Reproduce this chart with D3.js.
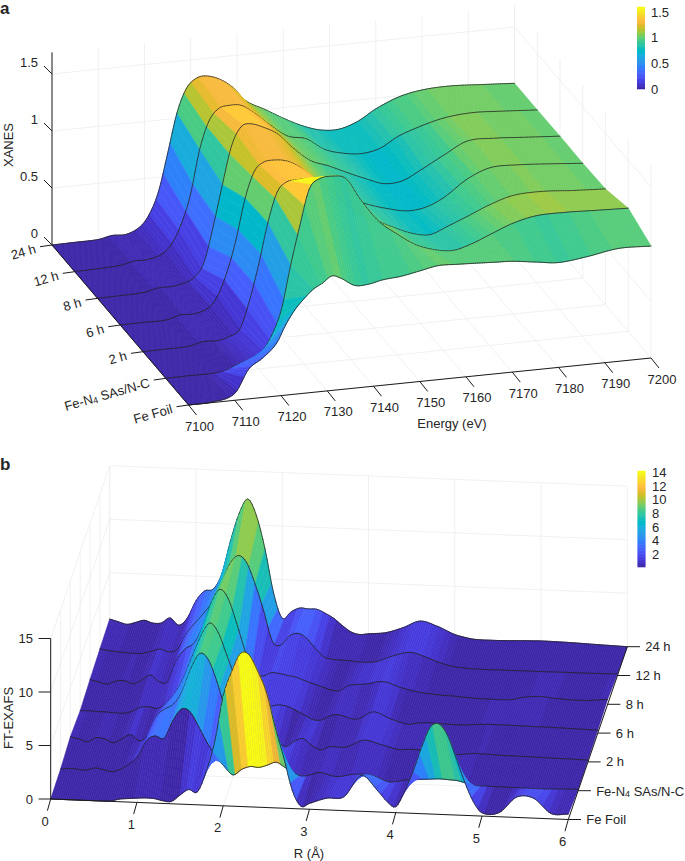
<!DOCTYPE html>
<html><head><meta charset="utf-8">
<script src="https://cdn.jsdelivr.net/npm/d3@7"></script>
<style>html,body{margin:0;background:#fff}svg{display:block}text{font-family:"Liberation Sans",Arial,sans-serif;fill:#262626}</style>
</head><body><svg id="c" width="685" height="861" viewBox="0 0 685 861"></svg>
<script>
const sampleLabels = ["Fe Foil","Fe-N4 SAs/N-C","2 h","6 h","8 h","12 h","24 h"];

const xanesEnergy = [7100,7105,7110,7113,7116,7119,7121,7123,7125,7127,7129,7131,7133,7136,7139,7142,7146,7150,7154,7158,7162,7166,7170,7175,7180,7186,7193,7200];
const xanesFeFoil = [0,.005,.06,.26,.345,.46,.615,.74,.83,.905,.95,1.005,.975,.90,.90,.925,.94,.97,1.0,.995,.988,.98,.972,.945,.92,.945,.99,.982];
const xanesFeN4   = [0,.002,.002,.018,.066,.11,.16,.29,.50,.88,1.22,1.53,1.61,1.625,1.59,1.40,1.19,1.06,.95,.89,.865,.905,.97,1.05,1.095,1.10,1.09,1.08];
const xanes2h     = [0,.002,.006,.035,.03,.06,.115,.35,.66,1.02,1.28,1.36,1.37,1.365,1.30,1.2,1.03,.95,.87,.8,.77,.83,.895,.98,1.04,1.05,1.03,1.015];
const xanes6h     = [0,.002,.003,.034,.032,.07,.165,.36,.64,1.0,1.23,1.3,1.31,1.29,1.22,1.11,.99,.9,.83,.78,.745,.76,.83,.97,1.05,1.05,1.03,1.006];
const xanes8h     = [0,.003,.01,.037,.037,.06,.10,.215,.524,.885,1.22,1.375,1.395,1.35,1.28,1.155,1.02,.955,.88,.81,.75,.76,.84,.95,1.05,1.05,1.03,1.01];
const xanes12h    = [0,.005,.015,.04,.042,.08,.16,.32,.57,.96,1.2,1.3,1.32,1.31,1.225,1.12,1.0,.96,.85,.80,.78,.81,.9,.97,1.02,1.04,1.025,1.006];
const xanes24h    = [0,.003,.007,.03,.027,.08,.18,.37,.70,1.045,1.25,1.33,1.347,1.31,1.225,1.09,1.0,.906,.825,.77,.76,.81,.905,.99,1.03,1.04,1.024,1.006];

const exafsR = [0,.1,.2,.3,.4,.5,.6,.7,.8,.9, 1,1.1,1.2,1.3,1.4,1.5,1.6,1.7,1.8,1.9, 2,2.1,2.2,2.3,2.4,2.5,2.6,2.7,2.8,2.9, 3, 3.2,3.4,3.6,3.8, 3.9,4,4.1,4.2,4.3,4.4,4.5,4.6,4.7,4.8,4.9,5, 5.2,5.4,5.6,5.8,6];
const exafsFeFoil = [0,0,0,0,0,0,0,.05,.25,.33, .4,.45,.42,.25,.22,.85,1.4,1.2,3.1,5.9, 10.3,12.6,14.3,14.2,12.7,10.8,7.6,4.8,1.7,.25, .55, 1.1,1.3,3.35,1.9, 1.0,.55,2.0,3.9,6.2,8.1,8.45,7.4,5.3,3.1,1.3,.3, .4,1.9,1.85,.5,.5];
const exafsFeN4   = [.08,.2,.15,.1,.33,.2,.06,.33,.85,1.6, 3.1,3.55,3.35,5.0,6.15,5.95,4.6,3.1,1.9,.95, .2,.75,1.05,1.0,1.25,1.55,1.1,.6,.35,.5, .75, .42,.7,.7,.12, .2,.35,.45,.5,.55,.6,.55,.5,.3,.1,.08,.08, .06,.05,.03,.1,.12];
const exafs2h     = [.44,.25,.03,.45,.35,.03,.45,.85,.3,.9, 2.7,3.4,3.9,5.2,7.3,8.7,8.15,6.1,3.5,1.8, 1.2,1.5,1.6,1.35,.75,.3,.85,1.12,.5,.13, .45, .5,1.2,.85,.45, .5,.52,.45,.35,.25,.18,.2,.3,.37,.35,.32,.28, .27,.25,.22,.2,.17];
const exafs6h     = [.18,.2,.16,.15,.1,.1,.3,.72,.8,.68, 1.25,2.2,3.7,5.7,7.6,8.85,8.0,5.9,3.8,2.2, 1.6,1.25,1.3,1.45,1.35,1.0,.6,.2,.2,.65, .74, .4,1.15,.55,.12, .25,.33,.32,.3,.27,.25,.3,.35,.4,.42,.41,.4, .38,.36,.34,.3,.28];
const exafs8h     = [.41,.2,.04,.35,.42,.15,.55,1.05,.45,.5, 2.5,3.6,4.15,5.6,7.9,9.3,8.5,6.2,3.6,1.7, 1.35,1.7,1.65,1.5,1.35,1.05,.8,.55,.3,.3, .8, 1.0,1.29,.8,.45, .35,.28,.22,.2,.15,.1,.06,.05,.03,.03,.1,.3, .48,.35,.27,.3,.47];
const exafs12h    = [.56,.45,.37,.3,.28,.32,.55,.78,.55,.85, 2.3,3.3,4.25,5.35,7.0,8.9,9.8,9.2,7.2,4.7, 1.9,1.6,2.5,2.75,2.3,1.4,.65,.45,.42,.4, .3, .4,1.0,1.39,.95, .65,.4,.22,.15,.1,.07,.07,.07,.08,.08,.08,.08, .08,.1,.1,.12,.14];
const exafs24h    = [.67,.45,.24,.45,.68,.45,.5,1.0,.35,1.05, 2.7,3.65,3.85,5.3,8.4,11,12.4,10.9,7.8,3.7, 1.37,2.0,2.4,2.35,2.35,2.0,1.55,.9,.35,.15, .25, .42,.95,1.63,1.2, .85,.5,.3,.15,.1,.1,.1,.12,.15,.18,.2,.22, .2,.16,.1,.05,0];

const xanesXTicks = [7100,7110,7120,7130,7140,7150,7160,7170,7180,7190,7200];
const xanesZTicks = [0,.5,1,1.5];
const xanesZTickLabels = ["0","0.5","1","1.5"];
const exafsXTicks = [0,1,2,3,4,5,6];
const exafsZTicks = [0,5,10,15];
const barATicks = [0,.5,1,1.5];
const barBTicks = [2,4,6,8,10,12,14];

const parula = [[.2422,.1504,.6603],[.2504,.165,.7076],[.2578,.1818,.7511],[.2647,.1978,.7952],[.2706,.2147,.8364],[.2751,.2342,.871],[.2783,.2559,.8991],[.2803,.2782,.9221],[.2813,.3006,.9414],[.281,.3228,.9579],[.2795,.3447,.9717],[.276,.3667,.9829],[.2699,.3892,.9906],[.2602,.4123,.9952],[.244,.4358,.9988],[.2206,.4603,.9973],[.1963,.4847,.9892],[.1834,.5074,.9798],[.1786,.5289,.9682],[.1764,.5499,.952],[.1687,.5703,.9359],[.154,.5902,.9218],[.146,.6091,.9079],[.138,.6276,.8973],[.1248,.6459,.8883],[.1113,.6635,.8763],[.0952,.6798,.8598],[.0689,.6948,.8394],[.0297,.7082,.8163],[.0036,.7203,.7917],[.0067,.7312,.766],[.0433,.7411,.7394],[.0964,.75,.712],[.1408,.7584,.6842],[.1717,.767,.6554],[.1938,.7758,.6251],[.2161,.7843,.5923],[.247,.7918,.5567],[.2906,.7973,.5188],[.3406,.8008,.4789],[.3909,.8029,.4354],[.4456,.8024,.3909],[.5044,.7993,.348],[.5616,.7942,.3045],[.6174,.7876,.2612],[.672,.7793,.2227],[.7242,.7698,.191],[.7738,.7598,.1646],[.8203,.7498,.1535],[.8634,.7406,.1596],[.9035,.733,.1774],[.9393,.7288,.21],[.9728,.7309,.2394],[.9956,.7434,.2371],[.997,.7659,.2199],[.9952,.7893,.2028],[.9892,.8136,.1885],[.9786,.8386,.1766],[.9676,.8639,.1643],[.961,.889,.1537],[.9597,.9135,.1423],[.9628,.9373,.1265],[.9691,.9606,.1064],[.9769,.9839,.0805]]
  .map(c => d3.rgb(c[0]*255,c[1]*255,c[2]*255).formatHex());

const svg = d3.select("#c");
const INK = "#1c1c1c", GRID = "#ededed";
const pathOf = d3.line();

// Cubic Hermite evaluation of the read-off knots so the sheet is smooth on screen.
function smooth(knots, vals, xs){
  const n = knots.length;
  const m = knots.map((k,i)=> i===0 ? (vals[1]-vals[0])/(knots[1]-knots[0])
    : i===n-1 ? (vals[n-1]-vals[n-2])/(knots[n-1]-knots[n-2])
    : (vals[i+1]-vals[i-1])/(knots[i+1]-knots[i-1]));
  const bis = d3.bisector(d=>d).right;
  return xs.map(x=>{
    let i = Math.min(n-2, Math.max(0, bis(knots,x)-1));
    const h = knots[i+1]-knots[i], s=(x-knots[i])/h, s2=s*s, s3=s2*s;
    return Math.max(0,(2*s3-3*s2+1)*vals[i]+(s3-2*s2+s)*h*m[i]+(-2*s3+3*s2)*vals[i+1]+(s3-s2)*h*m[i+1]);
  });
}

function makeProjection(o){
  const fx = d3.scaleLinear().domain(o.xDomain).range([0,1]);
  const ft = d3.scalePoint().domain(sampleLabels).range([0,1]);
  const fz = d3.scaleLinear().domain([0,1]).range([0,o.zPx]);
  const p = (x,t,z)=>{ const a=fx(x), b=typeof t==="string"?ft(t):t;
    return [o.ox+o.ux*a+o.vx*b, o.oy+o.uy*a+o.vy*b-fz(z)]; };
  p.ft = ft; return p;
}

function drawBox(g,p,xTicks,zTicks,zTop,xDomain,wallX){
  const grid = g.append("g").attr("fill","none").attr("stroke",GRID).attr("stroke-width",.8);
  const seg = (a,b)=>grid.append("path").attr("d",pathOf([a,b]));
  xTicks.forEach(x=>{ seg(p(x,0,0),p(x,1,0)); seg(p(x,1,0),p(x,1,zTop)); });
  sampleLabels.forEach(l=>{ seg(p(xDomain[0],l,0),p(xDomain[1],l,0)); seg(p(wallX,l,0),p(wallX,l,zTop)); });
  zTicks.filter(z=>z>0).forEach(z=>{ seg(p(xDomain[0],1,z),p(xDomain[1],1,z)); seg(p(wallX,0,z),p(wallX,1,z)); });
}

function drawSurface(g,p,knots,rows,cells,band,color,reverseX){
  const lo = knots[0], step = (knots[knots.length-1]-lo)/cells;
  const xs = d3.range(cells+1).map(i=>lo+i*step);
  const Z = rows.map(r=>smooth(knots,r,xs));
  const T = sampleLabels.map(l=>p.ft(l));
  const order = d3.range(cells); if(reverseX) order.reverse();
  const cell = g.append("g");
  const edge = (s,j)=>cell.append("path").attr("d",pathOf([p(xs[j],T[s],Z[s][j]),p(xs[j+1],T[s],Z[s][j+1])]))
      .attr("fill","none").attr("stroke","#222").attr("stroke-width",.75).attr("stroke-linecap","round");
  for(let s=rows.length-2;s>=0;s--){
    order.forEach(j=>{
      const c = color(Z[s][Math.floor(j/band)*band]);
      cell.append("path").attr("d",pathOf([p(xs[j],T[s],Z[s][j]),p(xs[j+1],T[s],Z[s][j+1]),p(xs[j+1],T[s+1],Z[s+1][j+1]),p(xs[j],T[s+1],Z[s+1][j])])+"Z")
        .attr("fill",c).attr("stroke",c).attr("stroke-width",.6).attr("stroke-linejoin","round");
      edge(s+1,j);
      if(s===0) edge(0,j);
    });
  }
}

function labelSample(sel,name){
  if(name==="Fe-N4 SAs/N-C"){
    sel.append("tspan").text("Fe-N");
    sel.append("tspan").text("4").attr("font-size",9).attr("dy",3);
    sel.append("tspan").text(" SAs/N-C").attr("dy",-3);
  } else sel.text(name);
}
const tickLine=(g,a,b)=>g.append("path").attr("d",pathOf([a,b])).attr("stroke",INK).attr("stroke-width",1).attr("fill","none");
const txt=(g,x,y,s,anchor,rot)=>{const t=g.append("text").attr("x",x).attr("y",y).attr("font-size",13).attr("text-anchor",anchor||"middle").attr("dominant-baseline","central");
  if(rot) t.attr("transform",`rotate(${rot} ${x} ${y})`); if(s!==null) t.text(s); return t;};

function colorbar(g,x,w,top,bottom,domain,color,ticks,labels,labelX){
  const y = d3.scaleLinear().domain(domain).range([bottom,top]);
  const b = g.append("g");
  const n = parula.length;
  const h=(domain[1]-domain[0])/n;
  const lv = d3.range(n).map(i=>domain[0]+h*i);
  lv.forEach(v=>b.append("rect").attr("x",x).attr("width",w).attr("y",y(v+h)-.3).attr("height",y(v)-y(v+h)+.6).attr("fill",color(v+h/2)));
  ticks.forEach((t,i)=>txt(g,labelX,y(t),labels?labels[i]:String(t),"start"));
}

/* ---------- panel a ---------- */
const ga = svg.append("g");
const pa = makeProjection({xDomain:[7100,7200],ox:188.5,oy:405,ux:462.5,uy:-47,vx:-136.5,vy:-160,zPx:114});
const colorA = d3.scaleQuantize().domain([0,1.6]).range(parula);
drawBox(ga,pa,xanesXTicks,xanesZTicks,1.69,[7100,7200],7200);
drawSurface(ga,pa,xanesEnergy,[xanesFeFoil,xanesFeN4,xanes2h,xanes6h,xanes8h,xanes12h,xanes24h],200,3,colorA,true);
tickLine(ga,pa(7100,0,0),pa(7200,0,0));
tickLine(ga,pa(7100,0,0),pa(7100,1,0));
tickLine(ga,pa(7100,1,0),pa(7100,1,1.69));
xanesXTicks.forEach(x=>{const b=pa(x,0,0);tickLine(ga,b,[b[0]+8,b[1]+10]);txt(ga,b[0]+11,b[1]+21,String(x));});
xanesZTicks.forEach((z,i)=>{const b=pa(7100,1,z);tickLine(ga,b,[b[0]-8,b[1]-8]);txt(ga,38,b[1]-11.5,xanesZTickLabels[i],"end");});
sampleLabels.forEach(l=>{const b=pa(7100,l,0);tickLine(ga,b,[b[0]-12,b[1]+1.7]);
  labelSample(txt(ga,b[0]-16.5,b[1]+3.5,null,"end",-16),l);});
txt(ga,452,423,"Energy (eV)");
txt(ga,8,145,"XANES","middle",-90);
colorbar(ga,637,8,7,89,[0,1.6],colorA,barATicks,["0","0.5","1","1.5"],651);
ga.append("text").attr("x",0).attr("y",14).attr("font-size",17).attr("font-weight","bold").attr("fill","#000").text("a");

/* ---------- panel b ---------- */
const gb = svg.append("g");
const pb = makeProjection({xDomain:[0,6],ox:50.7,oy:799,ux:517.6,uy:20.5,vx:59,vy:-172.8,zPx:10.7});
const colorB = d3.scaleQuantize().domain([.15,14.2]).range(parula);
drawBox(gb,pb,exafsXTicks,exafsZTicks,15,[0,6],0);
drawSurface(gb,pb,exafsR,[exafsFeFoil,exafsFeN4,exafs2h,exafs6h,exafs8h,exafs12h,exafs24h],240,3,colorB,false);
tickLine(gb,pb(0,0,0),pb(6,0,0));
tickLine(gb,pb(6,0,0),pb(6,1,0));
tickLine(gb,pb(0,0,0),pb(0,0,15));
exafsXTicks.forEach(x=>{const b=pb(x,0,0);tickLine(gb,b,[b[0]-3.3,b[1]+11.7]);txt(gb,b[0]-5.7,b[1]+22,String(x));});
exafsZTicks.forEach(z=>{const b=pb(0,0,z);tickLine(gb,b,[b[0]-12.1,b[1]]);txt(gb,33,b[1],String(z),"end");});
sampleLabels.forEach(l=>{const b=pb(6,l,0);tickLine(gb,b,[b[0]+12.7,b[1]]);
  labelSample(txt(gb,b[0]+18,b[1],null,"start"),l);});
txt(gb,309,853,"R (Å)");
txt(gb,8,718,"FT-EXAFS","middle",-90);
colorbar(gb,637.5,8,471,567,[.15,14.2],colorB,barBTicks,null,652);
gb.append("text").attr("x",0).attr("y",470).attr("font-size",17).attr("font-weight","bold").attr("fill","#000").text("b");
</script></body></html>
